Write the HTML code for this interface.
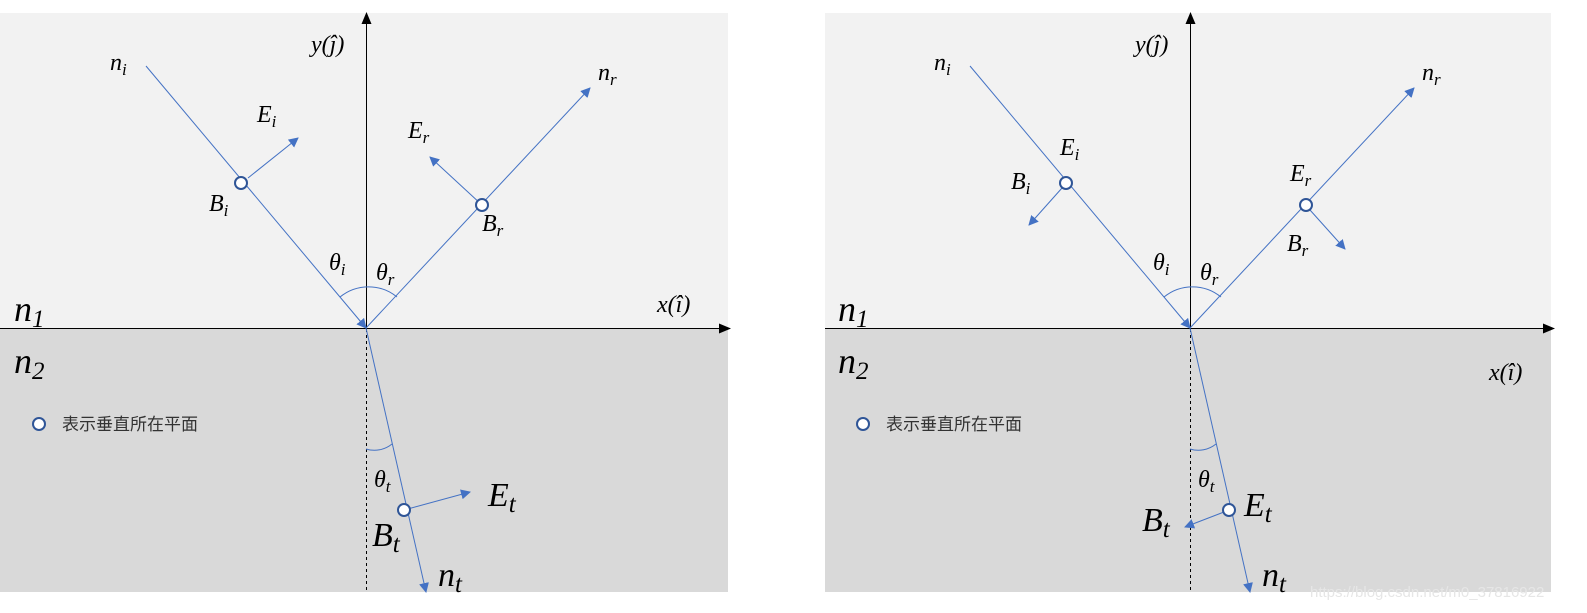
<!DOCTYPE html>
<html><head><meta charset="utf-8"><style>
body{margin:0;background:#fff;width:1587px;height:613px;overflow:hidden}
svg{display:block}
text{font-family:"Liberation Serif",serif;font-style:italic;fill:#000}
.cn{font-family:"Liberation Sans","Noto Sans CJK SC",sans-serif;font-style:normal;font-size:17px;fill:#333}
</style></head><body>
<svg width="1587" height="613" viewBox="0 0 1587 613">
<defs>
<marker id="b" markerWidth="10" markerHeight="10" refX="9" refY="5" orient="auto" markerUnits="userSpaceOnUse"><path d="M0,0 L10,5 L0,10 z" fill="#4472c4"/></marker>
<marker id="k" markerWidth="12" markerHeight="12" refX="11" refY="6" orient="auto" markerUnits="userSpaceOnUse"><path d="M0,1 L12,6 L0,11 z" fill="#000"/></marker>
</defs>
<!-- LEFT -->
<rect x="0" y="13" width="728" height="316" fill="#f2f2f2"/>
<rect x="0" y="329" width="728" height="263" fill="#d9d9d9"/>
<line x1="0" y1="328.5" x2="730" y2="328.5" stroke="#000" marker-end="url(#k)"/>
<line x1="366.5" y1="328" x2="366.5" y2="13" stroke="#000" marker-end="url(#k)"/>
<line x1="366.5" y1="329" x2="366.5" y2="592" stroke="#000" stroke-dasharray="3,3"/>
<g stroke="#4472c4" fill="none" stroke-width="1">
<line x1="146" y1="66" x2="366" y2="328" marker-end="url(#b)"/>
<line x1="366" y1="328" x2="590" y2="88" marker-end="url(#b)"/>
<line x1="366" y1="328" x2="426" y2="592" marker-end="url(#b)"/>
<line x1="248" y1="178" x2="298" y2="138" marker-end="url(#b)"/>
<line x1="482" y1="205" x2="430" y2="157" marker-end="url(#b)"/>
<line x1="404" y1="510" x2="470" y2="492" marker-end="url(#b)"/>
<path d="M340,297 A45,45 0 0 1 397,297"/>
<path d="M366,449 A28,28 0 0 0 392,444"/>
</g>
<g fill="#fff" stroke="#2f5597" stroke-width="2">
<circle cx="241" cy="183" r="6"/><circle cx="482" cy="205" r="6"/><circle cx="404" cy="510" r="6"/><circle cx="39" cy="424" r="6"/>
</g>
<text x="110" y="70" font-size="24">n<tspan font-size="17" dy="5">i</tspan></text>
<text x="257" y="122" font-size="24">E<tspan font-size="17" dy="5">i</tspan></text>
<text x="209" y="211" font-size="24">B<tspan font-size="17" dy="5">i</tspan></text>
<text x="408" y="138" font-size="24">E<tspan font-size="17" dy="5">r</tspan></text>
<text x="482" y="231" font-size="24">B<tspan font-size="17" dy="5">r</tspan></text>
<text x="598" y="80" font-size="24">n<tspan font-size="17" dy="5">r</tspan></text>
<text x="311" y="52" font-size="24">y(ĵ)</text>
<text x="329" y="270" font-size="24">θ<tspan font-size="17" dy="5">i</tspan></text>
<text x="376" y="280" font-size="24">θ<tspan font-size="17" dy="5">r</tspan></text>
<text x="657" y="312" font-size="24">x(î)</text>
<text x="14" y="321" font-size="36">n<tspan font-size="25" dy="6">1</tspan></text>
<text x="14" y="373" font-size="36">n<tspan font-size="25" dy="6">2</tspan></text>
<text class="cn" x="62" y="430">表示垂直所在平面</text>
<text x="374" y="487" font-size="24">θ<tspan font-size="17" dy="5">t</tspan></text>
<text x="488" y="506" font-size="34">E<tspan font-size="25" dy="6">t</tspan></text>
<text x="372" y="546" font-size="34">B<tspan font-size="25" dy="6">t</tspan></text>
<text x="438" y="586" font-size="34">n<tspan font-size="25" dy="6">t</tspan></text>
<!-- RIGHT -->
<g transform="translate(824,0)">
<rect x="1" y="13" width="726" height="316" fill="#f2f2f2"/>
<rect x="1" y="329" width="726" height="263" fill="#d9d9d9"/>
<line x1="1" y1="328.5" x2="730" y2="328.5" stroke="#000" marker-end="url(#k)"/>
<line x1="366.5" y1="328" x2="366.5" y2="13" stroke="#000" marker-end="url(#k)"/>
<line x1="366.5" y1="329" x2="366.5" y2="592" stroke="#000" stroke-dasharray="3,3"/>
<g stroke="#4472c4" fill="none" stroke-width="1">
<line x1="146" y1="66" x2="366" y2="328" marker-end="url(#b)"/>
<line x1="366" y1="328" x2="590" y2="88" marker-end="url(#b)"/>
<line x1="366" y1="328" x2="426" y2="592" marker-end="url(#b)"/>
<line x1="238" y1="188" x2="205" y2="225" marker-end="url(#b)"/>
<line x1="486" y1="210" x2="521" y2="249" marker-end="url(#b)"/>
<line x1="400" y1="512" x2="361" y2="527" marker-end="url(#b)"/>
<path d="M340,297 A45,45 0 0 1 397,297"/>
<path d="M366,449 A28,28 0 0 0 392,444"/>
</g>
<g fill="#fff" stroke="#2f5597" stroke-width="2">
<circle cx="242" cy="183" r="6"/><circle cx="482" cy="205" r="6"/><circle cx="405" cy="510" r="6"/><circle cx="39" cy="424" r="6"/>
</g>
<text x="110" y="70" font-size="24">n<tspan font-size="17" dy="5">i</tspan></text>
<text x="236" y="155" font-size="24">E<tspan font-size="17" dy="5">i</tspan></text>
<text x="187" y="189" font-size="24">B<tspan font-size="17" dy="5">i</tspan></text>
<text x="466" y="181" font-size="24">E<tspan font-size="17" dy="5">r</tspan></text>
<text x="463" y="251" font-size="24">B<tspan font-size="17" dy="5">r</tspan></text>
<text x="598" y="80" font-size="24">n<tspan font-size="17" dy="5">r</tspan></text>
<text x="311" y="52" font-size="24">y(ĵ)</text>
<text x="329" y="270" font-size="24">θ<tspan font-size="17" dy="5">i</tspan></text>
<text x="376" y="280" font-size="24">θ<tspan font-size="17" dy="5">r</tspan></text>
<text x="665" y="380" font-size="24">x(î)</text>
<text x="14" y="321" font-size="36">n<tspan font-size="25" dy="6">1</tspan></text>
<text x="14" y="373" font-size="36">n<tspan font-size="25" dy="6">2</tspan></text>
<text class="cn" x="62" y="430">表示垂直所在平面</text>
<text x="374" y="487" font-size="24">θ<tspan font-size="17" dy="5">t</tspan></text>
<text x="420" y="516" font-size="34">E<tspan font-size="25" dy="6">t</tspan></text>
<text x="318" y="531" font-size="34">B<tspan font-size="25" dy="6">t</tspan></text>
<text x="438" y="586" font-size="34">n<tspan font-size="25" dy="6">t</tspan></text>
<text x="486" y="597" font-size="15" style="font-family:'Liberation Sans',sans-serif;font-style:normal;fill:#e6e6e6">https://blog.csdn.net/m0_37816922</text>
</g>
</svg>
</body></html>
